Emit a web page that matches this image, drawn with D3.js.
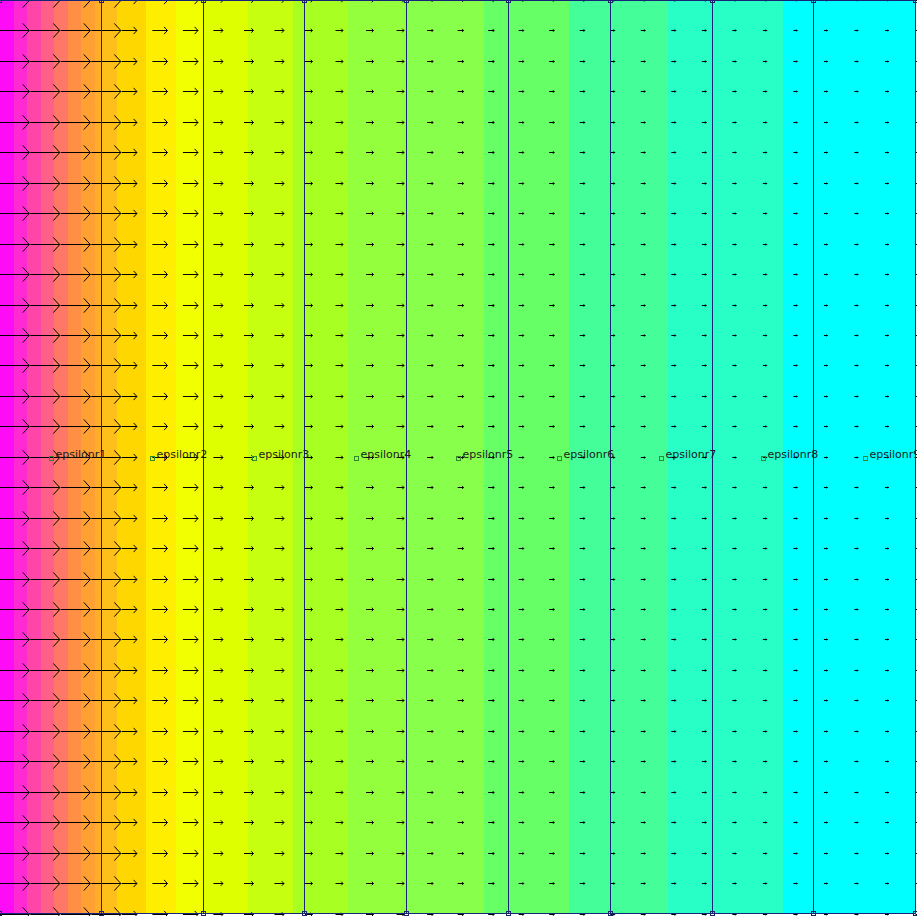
<!DOCTYPE html>
<html>
<head>
<meta charset="utf-8">
<script src="https://cdn.jsdelivr.net/npm/d3@7"></script>
<style>
  body { margin: 0; background: #fff; }
  svg { display: block; }
</style>
</head>
<body>
<div id="plot"></div>
<script>
// block labels, one per dielectric layer
const regionLabels = ["epsilonr1", "epsilonr2", "epsilonr3", "epsilonr4", "epsilonr5",
  "epsilonr6", "epsilonr7", "epsilonr8", "epsilonr9"];
// layer boundaries (mm)
const boundaries = [0, 1, 2, 3, 4, 5, 6, 7, 8, 9];
// relative field strength in each layer
const fieldE = [1.0, 0.51, 0.32, 0.25, 0.2, 0.17, 0.15, 0.13, 0.12];
// potential contour band edges (mm) and band colours
const bandEdges = [0, 0.138, 0.268, 0.403, 0.534, 0.669, 0.803, 0.934, 1.0, 1.153,
  1.433, 1.728, 2.0, 2.442, 2.884, 3.425, 4.0, 4.759, 5.595, 6.571, 7.702, 9];
const bandColors = ["#ff0cf7", "#ff2ad2", "#ff45a8", "#ff6088", "#ff7766", "#ff8f44",
  "#ffa033", "#ffae28", "#ffbf1a", "#ffd700", "#ffee00", "#f2ff00", "#ddff00",
  "#c6ff10", "#a8ff22", "#94ff3c", "#88ff4a", "#66ff66", "#44ff99", "#28ffc6", "#00ffff"];
// vector sampling grid (mm)
const gridStep = 0.3;
const labelY = 4.485;

const W = 917, H = 916;

const svg = d3.select("#plot")
  .append("svg")
  .attr("width", W)
  .attr("height", H);

const x = d3.scaleLinear().domain([0, 9]).range([-0.25, 915.5]);
const y = d3.scaleLinear().domain([0, 9]).range([913.5, 0]);
const len = d3.scaleLinear().domain([0, 1]).range([0, 29.5]);

// contour bands
const bands = d3.range(bandColors.length).map(i => ({
  x0: bandEdges[i], x1: bandEdges[i + 1], c: bandColors[i]
}));
svg.append("g")
  .selectAll("rect")
  .data(bands)
  .join("rect")
  .attr("x", d => x(d.x0))
  .attr("y", y(9))
  .attr("width", d => x(d.x1) - x(d.x0))
  .attr("height", y(0) - y(9))
  .attr("fill", d => d.c)
  .attr("shape-rendering", "crispEdges");

// field vectors
const cols = d3.range(0, 31).map(k => k * gridStep);
const rows = d3.range(0, 31).map(k => 9 - k * gridStep);
const vecs = [];
rows.forEach(yy => cols.forEach(xx => {
  const r = Math.min(8, Math.floor(xx + 1e-9));
  vecs.push({ x: xx, y: yy, e: fieldE[r] });
}));

svg.append("g")
  .selectAll("path")
  .data(vecs)
  .join("path")
  .attr("d", d => {
    const x0 = x(d.x), yy = Math.round(y(d.y)) + 0.5;
    const L = len(d.e);
    const x1 = x0 + L;
    const dep = L * 0.22, half = L * 0.24;
    return `M${x0},${yy}H${x1}M${x1 - dep},${yy - half}L${x1},${yy}L${x1 - dep},${yy + half}`;
  })
  .attr("fill", "none")
  .attr("stroke", "#000")
  .attr("stroke-width", 1);

// layer boundary lines
svg.append("g")
  .selectAll("line")
  .data(boundaries)
  .join("line")
  .attr("x1", d => Math.floor(x(d)) + 0.5)
  .attr("x2", d => Math.floor(x(d)) + 0.5)
  .attr("y1", y(9))
  .attr("y2", y(0))
  .attr("stroke", "#18237a")
  .attr("stroke-width", 1);

svg.append("line")
  .attr("x1", x(0)).attr("x2", x(9))
  .attr("y1", 0.5).attr("y2", 0.5)
  .attr("stroke", "#18237a");
svg.append("line")
  .attr("x1", x(0)).attr("x2", x(9))
  .attr("y1", Math.floor(y(0)) + 0.5).attr("y2", Math.floor(y(0)) + 0.5)
  .attr("stroke", "#18237a");

// nodes at corners of the layers
const nodes = [];
boundaries.forEach(b => { nodes.push({ x: b, y: 9 }); nodes.push({ x: b, y: 0 }); });
svg.append("g")
  .selectAll("rect")
  .data(nodes)
  .join("rect")
  .attr("x", d => Math.floor(x(d.x)) - 1.5)
  .attr("y", d => Math.floor(y(d.y)) - 1.5)
  .attr("width", 4)
  .attr("height", 4)
  .attr("fill", "none")
  .attr("stroke", "#1a2466")
  .attr("stroke-width", 1);

// block labels
const lab = svg.append("g")
  .selectAll("g")
  .data(regionLabels)
  .join("g")
  .attr("transform", (d, i) => `translate(${Math.round(x(i + 0.5))},${Math.round(y(labelY))})`);

lab.append("rect")
  .attr("x", -1.5).attr("y", -1.5)
  .attr("width", 4).attr("height", 4)
  .attr("fill", "none")
  .attr("stroke", "#2e8b2e");

lab.append("text")
  .attr("x", 4.5)
  .attr("y", -0.5)
  .style("font-family", "DejaVu Sans, sans-serif")
  .style("font-size", "11px")
  .attr("fill", "#1a1a1a")
  .text(d => d);
</script>
</body>
</html>
